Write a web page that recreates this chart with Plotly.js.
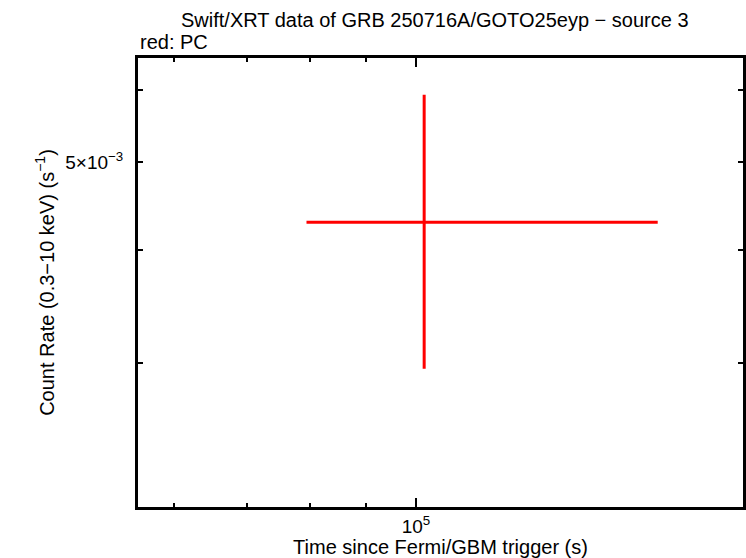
<!DOCTYPE html>
<html>
<head>
<meta charset="utf-8">
<script src="https://cdn.plot.ly/plotly-3.0.1.min.js"></script>
<style>html,body{margin:0;padding:0;background:#fff;}#chart{width:746px;height:558px;}</style>
</head>
<body>
<div id="chart"></div>
<script>
// Data
var time = [1.0176e5];
var timeErrPlus = [6.474e4];
var timeErrMinus = [2.236e4];
var rate = [4.29e-3];
var rateErrPlus = [1.64e-3];
var rateErrMinus = [1.332e-3];

var xMajorVals = [1e5];
var xMajorText = ['10<sup>5</sup>'];
var xMinorVals = [6e4, 7e4, 8e4, 9e4];
var yMajorVals = [5e-3];
var yMajorText = ['5×10<sup>−3</sup>'];
var yMinorVals = [3e-3, 4e-3, 6e-3];

var FONT = 'Liberation Sans, Arial, Helvetica, sans-serif';

var trace = {
  x: time, y: rate, type: 'scatter', mode: 'markers',
  marker: {size: 1, color: 'rgba(255,0,0,0)'},
  error_x: {type: 'data', symmetric: false, array: timeErrPlus, arrayminus: timeErrMinus,
            color: '#ff0000', thickness: 3, width: 0},
  error_y: {type: 'data', symmetric: false, array: rateErrPlus, arrayminus: rateErrMinus,
            color: '#ff0000', thickness: 3, width: 0},
  hoverinfo: 'skip', showlegend: false
};

var layout = {
  width: 746, height: 558,
  margin: {l: 138, r: 3, t: 58, b: 51},
  paper_bgcolor: '#ffffff', plot_bgcolor: '#ffffff',
  font: {family: FONT, color: '#000', size: 19},
  showlegend: false,
  xaxis: {
    type: 'log', range: [Math.log10(5.566e4), Math.log10(1.993e5)],
    showgrid: false, zeroline: false,
    showline: true, linecolor: '#000', linewidth: 3, mirror: 'allticks',
    ticks: 'inside', ticklen: 9, tickwidth: 2, tickcolor: '#000',
    tickmode: 'array', tickvals: xMajorVals, ticktext: xMajorText,
    tickfont: {family: FONT, size: 19},
    minor: {tickmode: 'array', tickvals: xMinorVals, ticks: 'inside', ticklen: 4, tickwidth: 2, tickcolor: '#000', showgrid: false},
    title: {text: 'Time since Fermi/GBM trigger (s)', font: {family: FONT, size: 20}, standoff: 2}
  },
  yaxis: {
    type: 'log', range: [-2.6814, -2.1864],
    showgrid: false, zeroline: false,
    showline: true, linecolor: '#000', linewidth: 3, mirror: 'allticks',
    ticks: 'inside', ticklen: 5, tickwidth: 2, tickcolor: '#000',
    tickmode: 'array', tickvals: yMajorVals, ticktext: yMajorText,
    ticklabelstandoff: 8,
    tickfont: {family: FONT, size: 19},
    minor: {tickmode: 'array', tickvals: yMinorVals, ticks: 'inside', ticklen: 5, tickwidth: 2, tickcolor: '#000', showgrid: false},
    title: {text: 'Count Rate (0.3−10 keV) (s<sup>−1</sup>)', font: {family: FONT, size: 20}, standoff: 6}
  },
  annotations: [
    {text: 'Swift/XRT data of GRB 250716A/GOTO25eyp − source 3', xref: 'paper', yref: 'paper',
     x: 0.491, y: 1, yshift: 38, xanchor: 'center', yanchor: 'middle', showarrow: false,
     font: {family: FONT, size: 20}},
    {text: 'red: PC', xref: 'paper', yref: 'paper', x: 0, y: 1, yshift: 16, xanchor: 'left', yanchor: 'middle',
     showarrow: false, font: {family: FONT, size: 20}}
  ]
};

Plotly.newPlot('chart', [trace], layout, {staticPlot: true, displayModeBar: false});
</script>
</body>
</html>
